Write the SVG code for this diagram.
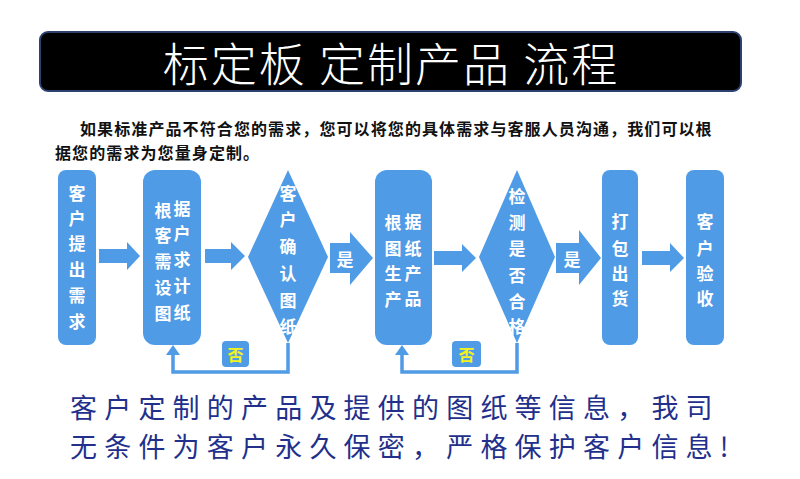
<svg xmlns="http://www.w3.org/2000/svg" width="800" height="479" viewBox="0 0 800 479">
<style>
.node{fill:#4f9be6}
.nt{font-family:"Noto Sans CJK SC","Noto Sans CJK JP",sans-serif;font-size:17px;font-weight:bold;fill:#ffffff;text-anchor:middle;dominant-baseline:central}
.no{font-family:"Noto Sans CJK SC",sans-serif;font-size:16px;font-weight:bold;fill:#f4f41c;text-anchor:middle;dominant-baseline:central}
.arrow{fill:#4f9be6}
.fb{fill:none;stroke:#4f9be6;stroke-width:3.5}
.para{font-family:"Noto Sans CJK SC",sans-serif;font-size:16px;font-weight:bold;fill:#111111;dominant-baseline:central;letter-spacing:1.1px}
.note{font-family:"Noto Sans CJK SC",sans-serif;font-size:27px;fill:#22308c;dominant-baseline:central;letter-spacing:7.2px}
</style>
<rect width="800" height="479" fill="#ffffff"/>
<g id="title">
<rect x="40" y="32" width="701" height="59" rx="8" fill="#000000" stroke="#2c4170" stroke-width="2"/>
<text x="391" y="61" font-family="'Noto Sans CJK SC',sans-serif" font-size="46" font-weight="300" letter-spacing="2" fill="#ffffff" text-anchor="middle" dominant-baseline="central">标定板 定制产品 流程</text>
</g>
<g id="intro">
<text class="para" x="80" y="128">如果标准产品不符合您的需求，您可以将您的具体需求与客服人员沟通，我们可以根</text>
<text class="para" x="55" y="152">据您的需求为您量身定制。</text>
</g>
<g id="connectors">
<path class="arrow" d="M99,249 H127 V242 L140,256 L127,270 V263 H99 Z"/>
<path class="arrow" d="M205,249 H231 V242 L245,256 L231,270 V263 H205 Z"/>
<path class="arrow" d="M330,243 H350 V232 L373,258 L350,285 V273 H330 Z"/>
<path class="arrow" d="M434,251 H462 V244 L476,258 L462,272 V265 H434 Z"/>
<path class="arrow" d="M556,243 H579 V230 L601,258 L579,285 V273 H556 Z"/>
<path class="arrow" d="M642,251 H670 V243 L684,258 L670,272 V265 H642 Z"/>
<path class="fb" d="M288,343 V372 H173 V353"/>
<polygon class="arrow" points="166,355 173,345 180,355"/>
<path class="fb" d="M517,343 V372 H402 V353"/>
<polygon class="arrow" points="395,355 402,345 409,355"/>
<text class="nt" x="345" y="258">是</text>
<text class="nt" x="572" y="258">是</text>
<rect class="node" x="222" y="341" width="27" height="26" rx="4"/>
<text class="no" x="235.5" y="354">否</text>
<rect class="node" x="452" y="341" width="29" height="26" rx="4"/>
<text class="no" x="466.5" y="354">否</text>
</g>
<g id="n1">
<rect class="node" x="58" y="170" width="38" height="175" rx="8"/>
<text class="nt"><tspan x="77" y="192">客</tspan><tspan x="77" y="217">户</tspan><tspan x="77" y="242">提</tspan><tspan x="77" y="268">出</tspan><tspan x="77" y="294">需</tspan><tspan x="77" y="320">求</tspan></text>
</g>
<g id="n2">
<rect class="node" x="143" y="170" width="58" height="175" rx="12"/>
<text class="nt"><tspan x="163" y="209">根</tspan><tspan x="163" y="234">客</tspan><tspan x="163" y="260">需</tspan><tspan x="163" y="286">设</tspan><tspan x="163" y="312">图</tspan></text>
<text class="nt"><tspan x="182" y="207">据</tspan><tspan x="182" y="232">户</tspan><tspan x="182" y="258">求</tspan><tspan x="182" y="284">计</tspan><tspan x="182" y="311">纸</tspan></text>
</g>
<g id="n3">
<polygon class="node" points="288,170 328,257 288,343 248,257"/>
<text class="nt"><tspan x="288" y="192">客</tspan><tspan x="288" y="218">户</tspan><tspan x="288" y="245">确</tspan><tspan x="288" y="272">认</tspan><tspan x="288" y="299">图</tspan><tspan x="288" y="325">纸</tspan></text>
</g>
<g id="n4">
<rect class="node" x="375" y="170" width="57" height="175" rx="12"/>
<text class="nt"><tspan x="393" y="221">根</tspan><tspan x="393" y="247">图</tspan><tspan x="393" y="272">生</tspan><tspan x="393" y="298">产</tspan></text>
<text class="nt"><tspan x="413" y="220">据</tspan><tspan x="413" y="247">纸</tspan><tspan x="413" y="272">产</tspan><tspan x="413" y="297">品</tspan></text>
</g>
<g id="n5">
<polygon class="node" points="517,170 555,257 517,343 479,257"/>
<text class="nt"><tspan x="517" y="195">检</tspan><tspan x="517" y="221">测</tspan><tspan x="517" y="247">是</tspan><tspan x="517" y="274">否</tspan><tspan x="517" y="300">合</tspan><tspan x="517" y="325">格</tspan></text>
</g>
<g id="n6">
<rect class="node" x="602" y="170" width="36" height="175" rx="8"/>
<text class="nt"><tspan x="620" y="220">打</tspan><tspan x="620" y="247">包</tspan><tspan x="620" y="272">出</tspan><tspan x="620" y="297">货</tspan></text>
</g>
<g id="n7">
<rect class="node" x="686" y="170" width="38" height="175" rx="8"/>
<text class="nt"><tspan x="705" y="220">客</tspan><tspan x="705" y="247">户</tspan><tspan x="705" y="272">验</tspan><tspan x="705" y="297">收</tspan></text>
</g>
<g id="notice">
<text class="note" x="70" y="406">客户定制的产品及提供的图纸等信息，我司</text>
<text class="note" x="70" y="445">无条件为客户永久保密，严格保护客户信息!</text>
</g>
</svg>
